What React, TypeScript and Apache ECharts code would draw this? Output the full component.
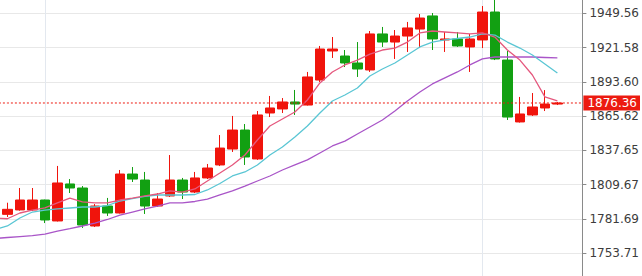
import React, { useEffect, useRef } from "react";
import * as echarts from "echarts";

// Y axis tick labels (right side)
const yTickLabels = ["1753.71", "1781.69", "1809.67", "1837.65", "1865.62", "1893.60", "1921.58", "1949.56"];
const lastPrice = 1876.36;

// Candles (45 sessions)
const opens = [1785.5, 1789.1, 1789.1, 1797.2, 1780.1, 1810.3, 1807.0, 1776.0, 1792.3, 1786.6, 1818.4, 1813.5, 1792.3, 1800.5, 1813.5, 1803.7, 1815.2, 1825.8, 1838.8, 1854.3, 1830.7, 1868.2, 1871.5, 1877.2, 1874.7, 1895.1, 1918.8, 1914.7, 1909.0, 1903.3, 1932.7, 1926.1, 1931.0, 1936.7, 1947.4, 1927.8, 1928.6, 1922.1, 1927.8, 1950.6, 1911.4, 1860.9, 1866.6, 1872.3, 1875.5];
const closes = [1789.6, 1797.2, 1797.2, 1780.9, 1811.1, 1807.0, 1776.8, 1792.3, 1786.6, 1818.4, 1814.3, 1792.3, 1798.0, 1813.5, 1803.7, 1815.2, 1823.3, 1839.6, 1854.3, 1832.3, 1866.6, 1872.3, 1877.2, 1875.5, 1897.6, 1920.4, 1920.4, 1909.0, 1904.1, 1932.7, 1926.1, 1931.0, 1937.6, 1945.7, 1928.6, 1928.6, 1922.9, 1928.6, 1950.6, 1912.3, 1864.9, 1867.4, 1873.1, 1875.5, 1876.36];
const lows = [1783.3, 1788.5, 1788.2, 1778.4, 1779.7, 1802.9, 1774.4, 1775.2, 1784.2, 1786.2, 1811.9, 1785.8, 1791.5, 1799.7, 1798.0, 1802.9, 1814.3, 1824.9, 1836.4, 1825.8, 1829.9, 1864.9, 1868.2, 1866.6, 1874.3, 1893.5, 1913.1, 1905.7, 1897.6, 1901.7, 1922.1, 1912.3, 1918.0, 1921.2, 1919.6, 1918.0, 1922.1, 1901.7, 1921.2, 1911.4, 1862.5, 1860.4, 1865.8, 1869.8, 1874.7];
const highs = [1795.0, 1807.0, 1807.0, 1797.5, 1825.0, 1814.3, 1808.6, 1793.9, 1798.9, 1821.7, 1824.1, 1820.1, 1802.9, 1833.9, 1815.2, 1820.1, 1826.6, 1850.2, 1865.8, 1859.2, 1869.8, 1882.1, 1880.4, 1887.0, 1901.7, 1922.9, 1930.2, 1919.6, 1926.1, 1935.1, 1938.4, 1935.9, 1942.5, 1949.0, 1949.8, 1934.3, 1934.3, 1932.7, 1955.5, 1962.9, 1918.8, 1881.3, 1884.5, 1886.9, 1877.2];

// Moving averages: first value is the session just before the visible window
const maFast = [1782.5, 1781.9, 1786.6, 1789.0, 1790.7, 1794.8, 1798.8, 1795.6, 1794.8, 1794.8, 1797.2, 1798.8, 1800.5, 1802.1, 1804.6, 1803.7, 1806.2, 1812.7, 1819.2, 1825.8, 1833.9, 1846.2, 1857.6, 1863.3, 1869.0, 1878.8, 1892.7, 1901.7, 1907.4, 1911.4, 1916.3, 1919.6, 1921.2, 1926.1, 1933.5, 1935.1, 1934.3, 1933.5, 1932.7, 1933.5, 1930.2, 1919.6, 1911.4, 1899.2, 1881.3, 1878.0];
const maMid = [1773.1, 1776.0, 1782.5, 1787.4, 1789.0, 1789.9, 1790.7, 1791.5, 1791.5, 1792.7, 1796.4, 1798.4, 1800.1, 1801.3, 1801.3, 1801.3, 1801.7, 1805.4, 1810.7, 1816.8, 1820.1, 1825.8, 1833.9, 1840.4, 1848.6, 1857.6, 1868.2, 1878.0, 1882.9, 1888.6, 1898.4, 1904.1, 1909.0, 1915.5, 1922.1, 1926.1, 1927.8, 1929.0, 1930.2, 1932.7, 1931.8, 1926.1, 1921.2, 1915.5, 1908.2, 1900.8];
const maSlow = [1765.8, 1766.6, 1767.4, 1768.2, 1769.4, 1771.9, 1773.9, 1776.0, 1778.4, 1781.3, 1784.9, 1787.4, 1789.9, 1792.3, 1794.8, 1794.8, 1796.0, 1798.0, 1801.3, 1804.6, 1808.6, 1812.7, 1816.8, 1821.7, 1825.8, 1829.9, 1835.6, 1841.3, 1845.3, 1851.1, 1856.8, 1862.5, 1869.8, 1878.0, 1885.3, 1891.9, 1896.8, 1901.7, 1907.4, 1912.3, 1913.9, 1913.9, 1913.9, 1913.9, 1913.5, 1913.1];

const TOTAL_SLOTS = 48; // one lead slot + 45 candles + 2 empty slots

// The chart canvas is larger than the window and shifted so the plot bleeds past the edges
const OFF_X = 10;
const OFF_Y = 30;
const CW = 652;
const CH = 320;

export default function App() {
  const ref = useRef<HTMLDivElement>(null);

  useEffect(() => {
    if (!ref.current) return;
    const chart = echarts.init(ref.current, null, { renderer: "svg" });

    const step = parseFloat(yTickLabels[1]) - parseFloat(yTickLabels[0]);
    const yMin = parseFloat(yTickLabels[0]) - step;
    const yMax = parseFloat(yTickLabels[yTickLabels.length - 1]) + step;

    const categories = Array.from({ length: TOTAL_SLOTS }, (_, i) => String(i));
    const candleData = opens.map((o, i) => [i + 1, o, closes[i], lows[i], highs[i]]);
    const priceLine = categories.map(() => lastPrice);

    const fmt = (v: number) => {
      let best = "";
      let bd = Infinity;
      for (const t of yTickLabels) {
        const d = Math.abs(parseFloat(t) - v);
        if (d < bd) {
          bd = d;
          best = t;
        }
      }
      return bd < 1 ? best : "";
    };

    const gridLeft = OFF_X - 5.1;
    const gridRight = CW - (587 + OFF_X);
    const gridTop = OFF_Y - 21;
    const gridBottom = CH - (287.6 + OFF_Y);

    const priceRed = "#ec1a10";

    chart.setOption({
      animation: false,
      grid: { left: gridLeft, right: gridRight, top: gridTop, bottom: gridBottom, containLabel: false },
      xAxis: {
        type: "category",
        data: categories,
        boundaryGap: false,
        axisLine: { show: false },
        axisTick: { show: false },
        axisLabel: { show: false },
        splitLine: {
          show: true,
          interval: (index: number) => index === 4 || index === 39,
          lineStyle: { color: "#e3e8ef", width: 1 },
        },
      },
      yAxis: {
        type: "value",
        position: "right",
        min: yMin,
        max: yMax,
        interval: step,
        axisLine: { show: true, lineStyle: { color: "#8a8a8a", width: 1 } },
        axisTick: { show: true, inside: false, length: 4, lineStyle: { color: "#8a8a8a" } },
        axisLabel: {
          show: true,
          margin: 7,
          color: "#3c3c3c",
          fontFamily: "DejaVu Sans",
          fontSize: 12,
          formatter: fmt,
          showMinLabel: false,
          showMaxLabel: false,
        },
        splitLine: { show: true, lineStyle: { color: "#e8e8e8", width: 1 } },
      },
      series: [
        {
          type: "candlestick",
          data: candleData,
          encode: { x: 0, y: [1, 2, 3, 4] },
          barWidth: 10,
          clip: false,
          itemStyle: {
            color: "#f0140c",
            borderColor: "#f0140c",
            color0: "#12a012",
            borderColor0: "#12a012",
            borderWidth: 1,
          },
        },
        {
          type: "line",
          data: maSlow,
          symbol: "none",
          lineStyle: { color: "#a955c8", width: 1.3 },
          z: 3,
        },
        {
          type: "line",
          data: maMid,
          symbol: "none",
          lineStyle: { color: "#5ac6d4", width: 1.3 },
          z: 3,
        },
        {
          type: "line",
          data: maFast,
          symbol: "none",
          lineStyle: { color: "#e5587e", width: 1.3 },
          z: 3,
        },
        {
          type: "line",
          data: priceLine,
          symbol: "none",
          silent: true,
          clip: false,
          color: priceRed,
          lineStyle: { color: priceRed, type: [2, 2], width: 1 },
          z: 4,
          endLabel: {
            show: true,
            distance: 1,
            formatter: () => lastPrice.toFixed(2),
            color: "#ffffff",
            backgroundColor: priceRed,
            fontFamily: "DejaVu Sans",
            fontSize: 12,
            lineHeight: 13,
            padding: [1, 3, 1, 4],
          },
        },
      ],
    });

    return () => chart.dispose();
  }, []);

  return (
    <div
      ref={ref}
      style={{ position: "fixed", left: -OFF_X, top: -OFF_Y, width: CW, height: CH, background: "#ffffff" }}
    />
  );
}
